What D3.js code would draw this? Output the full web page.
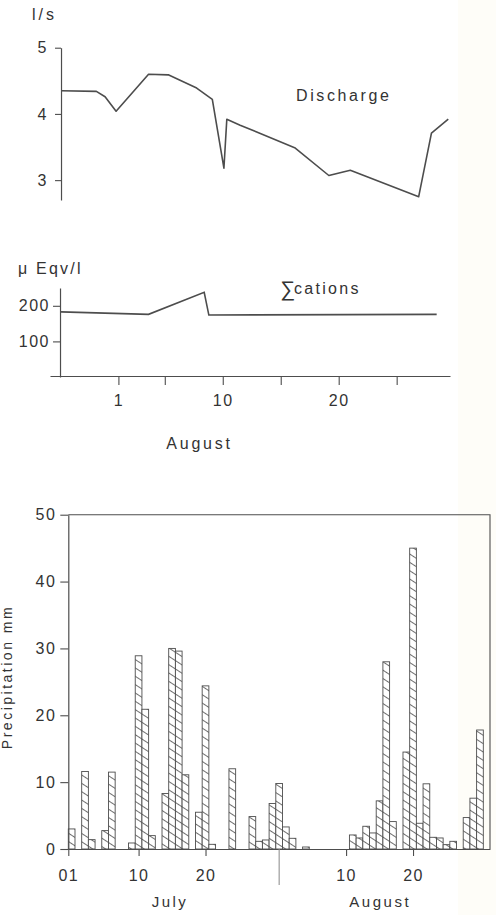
<!DOCTYPE html>
<html>
<head>
<meta charset="utf-8">
<script src="https://cdn.jsdelivr.net/npm/d3@7"></script>
<style>
    body { margin: 0; background: #fff; }
    svg text { font-family: "Liberation Sans", Arial, sans-serif; fill: #333; }
</style>
</head>
<body>
<svg id="chart" width="496" height="915"></svg>
<script>
// discharge l/s, x = day of August (July days are <= 0)
const dischargeDay = [-3.95, -0.9, -0.15, 0.8, 3.6, 5.3, 7.75, 9.1, 10.1, 10.35, 11.5, 16.2, 19.15, 21, 26.9, 28, 29.45];
const dischargeVal = [4.35, 4.34, 4.26, 4.04, 4.60, 4.59, 4.39, 4.22, 3.18, 3.92, 3.83, 3.49, 3.07, 3.15, 2.75, 3.71, 3.92];

// sum of cations, micro Eqv/l
const cationDay = [-3.95, 3.6, 8.4, 8.8, 28.45];
const cationVal = [183, 176, 238, 174, 176];

const topTicks = [1, 5, 10, 15, 20, 25];
const topTickLabels = ["1", "", "10", "", "20", ""];
const dischargeTicks = [3, 4, 5];
const cationTicks = [100, 200];

// daily precipitation mm, day slot counted from the July axis origin (Aug 1 = 32)
const rainDay = [0, 2, 3, 5, 6, 9, 10, 11, 12, 14, 15, 16, 17, 19, 20, 21, 24, 27, 28, 29, 30, 31, 32, 33, 35,
    42, 43, 44, 45, 46, 47, 48, 50, 51, 52, 53, 54, 55, 56, 57, 59, 60, 61];
const rainMm = [3.0, 11.6, 1.4, 2.75, 11.5, 0.9, 28.9, 20.9, 2.0, 8.3, 30.0, 29.6, 11.1, 5.5, 24.4, 0.7, 12.0, 4.85, 1.15, 1.35, 6.8, 9.8, 3.3, 1.6, 0.3,
    2.1, 1.65, 3.4, 2.4, 7.2, 28.0, 4.1, 14.5, 45.0, 3.85, 9.75, 1.75, 1.65, 0.65, 1.15, 4.7, 7.6, 17.8];
const rainTicks = [0, 10.5, 20.5, 41.5, 51.5];
const rainTickLabels = ["01", "10", "20", "10", "20"];
const rainYTicks = [0, 10, 20, 30, 40, 50];
const months = ["July", "August"];
const monthAt = [15.2, 46.6];
const monthBreak = 31.5;

const ink = "#4d4d4d",
    svg = d3.select("#chart");

function style_axis(g, size) {
    g.select(".domain").attr("stroke", ink).attr("stroke-width", 1.2);
    g.selectAll(".tick line").attr("stroke", ink).attr("stroke-width", 1.1);
    g.selectAll("text")
        .attr("font-family", null)
        .style("font-size", size + "px")
        .style("letter-spacing", "1.5px")
        .attr("fill", "#333");
    g.attr("font-family", null).attr("font-size", null);
}

function add_text(x, y, str, size, anchor, spacing) {
    return svg.append("text")
        .attr("x", x)
        .attr("y", y)
        .attr("text-anchor", anchor || "start")
        .style("font-size", size + "px")
        .style("letter-spacing", (spacing == null ? 2.5 : spacing) + "px")
        .text(str);
}

function draw_top() {
    let x = d3.scaleLinear().domain([-4.9, 29.6]).range([50, 450]),
        yQ = d3.scaleLinear().domain([2.7, 5]).range([200, 47.7]),
        yC = d3.scaleLinear().domain([0, 250]).range([377, 288]);

    let line = d3.line().x(d => x(d[0])).y(d => d[1]);

    svg.append("path")
        .datum(d3.zip(dischargeDay, dischargeVal.map(yQ)))
        .attr("d", line)
        .attr("fill", "none")
        .attr("stroke", ink)
        .attr("stroke-width", 1.6)
        .attr("stroke-linejoin", "round");

    svg.append("path")
        .datum(d3.zip(cationDay, cationVal.map(yC)))
        .attr("d", line)
        .attr("fill", "none")
        .attr("stroke", ink)
        .attr("stroke-width", 1.6);

    let ax = x(dischargeDay[0]);
    svg.append("g")
        .attr("transform", `translate(${ax},0)`)
        .call(d3.axisLeft(yQ).tickValues(dischargeTicks).tickSize(6).tickSizeOuter(0).tickPadding(7).tickFormat(d3.format("d")))
        .call(g => style_axis(g, 16));

    svg.append("g")
        .attr("transform", `translate(${ax - 1},0)`)
        .call(d3.axisLeft(yC).tickValues(cationTicks).tickSize(7).tickSizeOuter(0).tickPadding(3).tickFormat(d3.format("d")))
        .call(g => style_axis(g, 16));

    svg.append("g")
        .attr("transform", `translate(0,${yC(0) - 1})`)
        .call(d3.axisBottom(x).tickValues(topTicks).tickSize(9).tickSizeOuter(0).tickPadding(10)
            .tickFormat((d, i) => topTickLabels[i]))
        .call(g => style_axis(g, 16));

    add_text(32, 20, "l/s", 16, "start", 3);
    add_text(296, 101, "Discharge", 16, "start", 2.6);
    add_text(18, 274, "\u03bc  Eqv/l", 16, "start", 2.2);
    add_text(280, 296, "\u2211", 21, "start", 0);
    add_text(294, 294, "cations", 16, "start", 2.3);
    add_text(x(8), 449, "August", 16, "middle", 2.8);
}

function draw_rain() {
    let x = d3.scaleLinear().domain([0, 63]).range([68.3, 490]),
        y = d3.scaleLinear().domain([0, 50]).range([849, 514.7]);

    let pat = svg.append("defs").append("pattern")
        .attr("id", "hatch")
        .attr("patternUnits", "userSpaceOnUse")
        .attr("width", 10)
        .attr("height", 7)
        .attr("patternTransform", "rotate(33)");
    pat.append("rect").attr("width", 10).attr("height", 7).attr("fill", "#fff");
    pat.append("line")
        .attr("x1", 0).attr("x2", 10)
        .attr("y1", 3.5).attr("y2", 3.5)
        .attr("stroke", "#555")
        .attr("stroke-width", 0.85);

    svg.append("g")
        .selectAll("rect")
        .data(d3.zip(rainDay, rainMm))
        .enter()
        .append("rect")
        .attr("x", d => x(d[0]))
        .attr("width", d => x(d[0] + 1) - x(d[0]))
        .attr("y", d => y(d[1]))
        .attr("height", d => y(0) - y(d[1]))
        .attr("fill", "url(#hatch)")
        .attr("stroke", ink)
        .attr("stroke-width", 0.9);

    // frame: top and right
    svg.append("path")
        .attr("d", `M${x(0)},${y(50)}H${x(63)}V${y(0)}`)
        .attr("fill", "none")
        .attr("stroke", ink)
        .attr("stroke-width", 1.1);

    svg.append("g")
        .attr("transform", `translate(${x(0)},0)`)
        .call(d3.axisLeft(y).tickValues(rainYTicks).tickSize(8).tickSizeOuter(0).tickPadding(4))
        .call(g => style_axis(g, 16));

    svg.append("g")
        .attr("transform", `translate(0,${y(0)})`)
        .call(d3.axisBottom(x).tickValues(rainTicks).tickSize(7).tickSizeOuter(0).tickPadding(14)
            .tickFormat((d, i) => rainTickLabels[i]))
        .call(g => style_axis(g, 16));

    svg.append("line")
        .attr("x1", x(monthBreak)).attr("x2", x(monthBreak))
        .attr("y1", y(0)).attr("y2", y(0) + 36)
        .attr("stroke", "#888")
        .attr("stroke-width", 1);

    months.forEach((m, i) => add_text(x(monthAt[i]), 907, m, 15, "middle", 2.5));

    svg.append("text")
        .attr("transform", "translate(12,677) rotate(-90)")
        .attr("text-anchor", "middle")
        .style("font-size", "14px")
        .style("letter-spacing", "2.5px")
        .text("Precipitation   mm");
}

svg.append("rect")
    .attr("x", 458).attr("y", 0)
    .attr("width", 38).attr("height", 915)
    .attr("fill", "#fefdf8");

draw_top();
draw_rain();
</script>
</body>
</html>
